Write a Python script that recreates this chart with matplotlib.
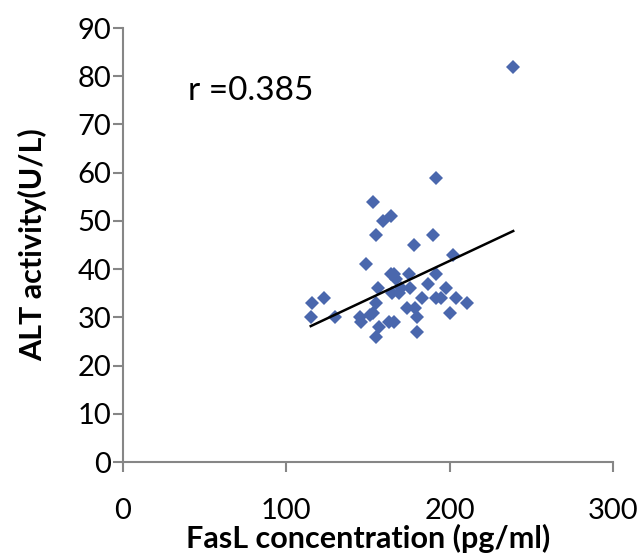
import numpy as np
from matplotlib import pyplot as plt

# FasL (pg/ml) vs ALT (U/L)
fasl = [239, 192, 153, 159, 164, 155, 190, 178, 202, 149,
        164, 166, 175, 192, 167, 187, 156, 170, 176, 198,
        165, 169, 183, 192, 195, 204, 123, 116, 155, 211,
        174, 179, 153, 200, 151, 145, 115, 130, 180, 146,
        163, 166, 157, 180, 155]
alt = [82, 59, 54, 50, 51, 47, 47, 45, 43, 41,
       39, 39, 39, 39, 38, 37, 36, 36, 36, 36,
       35, 35, 34, 34, 34, 34, 34, 33, 33, 33,
       32, 32, 31, 31, 30.5, 30, 30, 30, 30, 29,
       29, 29, 28, 27, 26]
# trend line as drawn in the figure
slope = 0.159
intercept = 9.9
r_text = 'r =0.385'

fasl = np.array(fasl)
alt = np.array(alt)

plt.rcParams['font.family'] = ['Lato', 'DejaVu Sans']
fig = plt.figure(figsize=(6.39, 5.57), dpi=100)
ax = fig.add_axes([0.1925, 0.1705, 0.7665, 0.7792])

ax.plot(fasl, alt, linestyle='none', marker='D', markersize=6.8,
        color='#4a67ad', markeredgewidth=0)
xl = np.array([fasl.min(), fasl.max()])
ax.plot(xl, slope * xl + intercept, color='black', linewidth=1.8)

ax.text(40, 77, r_text, fontsize=24, va='center', ha='left')

ax.set_xlim(0, 300)
ax.set_ylim(0, 90)
ax.set_xticks([0, 100, 200, 300])
ax.set_yticks(range(0, 91, 10))
ax.spines['top'].set_visible(False)
ax.spines['right'].set_visible(False)
for s in ['left', 'bottom']:
    ax.spines[s].set_color('#868686')
    ax.spines[s].set_linewidth(1.5)
    ax.spines[s].set_clip_on(False)
ax.tick_params(direction='out', length=7, width=1.5, color='#868686',
               labelsize=21, pad=1.5)
ax.tick_params(axis='x', pad=19)

ax.set_xlabel('FasL concentration (pg/ml)', fontsize=22, fontweight='bold', labelpad=0)
ax.set_ylabel('ALT activity(U/L)', fontsize=22, fontweight='bold', labelpad=22)

plt.savefig('out.png', dpi=100)
